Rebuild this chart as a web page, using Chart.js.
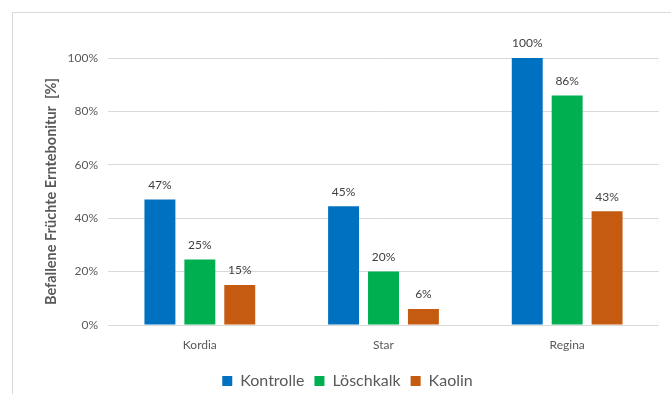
<!DOCTYPE html>
<html>
<head>
<meta charset="utf-8">
<script src="https://cdn.jsdelivr.net/npm/chart.js@4.4.0/dist/chart.umd.min.js"></script>
<style>
  html, body { margin: 0; padding: 0; background: #fff; }
  #wrap { width: 671px; height: 394px; }
</style>
</head>
<body>
<div id="wrap"><canvas id="myChart"></canvas></div>
<script>
var sorten = ['Kordia', 'Star', 'Regina'];
var kontrolle = [47, 44.5, 100];
var loeschkalk = [24.5, 20, 86];
var kaolin = [15, 6, 42.6];
var yTicks = ['0%', '20%', '40%', '60%', '80%', '100%'];

var fontName = 'Lato, "Open Sans", sans-serif';

// light grey frame (only top and left edges are visible in the original)
var framePlugin = {
  id: 'frame',
  beforeDraw: function (chart) {
    var c = chart.ctx;
    c.save();
    c.fillStyle = '#fff';
    c.fillRect(0, 0, chart.width, chart.height);
    c.strokeStyle = '#d9d9d9';
    c.lineWidth = 1;
    c.beginPath();
    c.moveTo(12.5, chart.height);
    c.lineTo(12.5, 12.5);
    c.lineTo(chart.width, 12.5);
    c.stroke();
    c.restore();
  }
};

// value labels above the bars
var valueLabels = {
  id: 'valueLabels',
  afterDatasetsDraw: function (chart) {
    var c = chart.ctx;
    c.save();
    c.font = '12px ' + fontName;
    c.fillStyle = '#404040';
    c.textAlign = 'center';
    c.textBaseline = 'middle';
    chart.data.datasets.forEach(function (ds, i) {
      chart.getDatasetMeta(i).data.forEach(function (bar, j) {
        c.fillText(Math.round(ds.data[j]) + '%', bar.x, bar.y - 14.5);
      });
    });
    c.restore();
  }
};

var ctx = document.getElementById('myChart').getContext('2d');
var myChart = new Chart(ctx, {
  type: 'bar',
  data: {
    labels: sorten,
    datasets: [{
      label: 'Kontrolle',
      data: kontrolle,
      backgroundColor: '#0070C0'
    }, {
      label: 'Löschkalk',
      data: loeschkalk,
      backgroundColor: '#00B050'
    }, {
      label: 'Kaolin',
      data: kaolin,
      backgroundColor: '#C55A11'
    }]
  },
  options: {
    responsive: true,
    maintainAspectRatio: false,
    animation: false,
    categoryPercentage: 0.652,
    barPercentage: 0.775,
    layout: {
      padding: { left: 36, right: 12, top: 58, bottom: -5 }
    },
    scales: {
      x: {
        grid: { display: false, drawTicks: false },
        border: { display: false },
        ticks: {
          color: '#595959',
          font: { family: fontName, size: 12 },
          padding: 13
        },
        afterFit: function (scale) { scale.height = 38; }
      },
      y: {
        min: 0,
        max: 100,
        grid: { color: '#d9d9d9', drawTicks: false },
        border: { display: false },
        ticks: {
          stepSize: 20,
          color: '#595959',
          font: { family: fontName, size: 12 },
          padding: 10,
          callback: function (v) { return yTicks[v / 20]; }
        },
        title: {
          display: true,
          text: 'Befallene Früchte Erntebonitur  [%]',
          color: '#595959',
          font: { family: fontName, size: 14.5, weight: 'bold' },
          padding: { top: 7, bottom: 0 }
        },
        afterFit: function (scale) { scale.width = 72; }
      }
    },
    plugins: {
      legend: {
        position: 'bottom',
        labels: {
          boxWidth: 10,
          boxHeight: 10,
          padding: 10,
          color: '#595959',
          font: { family: fontName, size: 16 }
        }
      },
      tooltip: { enabled: false }
    }
  },
  plugins: [framePlugin, valueLabels]
});
</script>
</body>
</html>
